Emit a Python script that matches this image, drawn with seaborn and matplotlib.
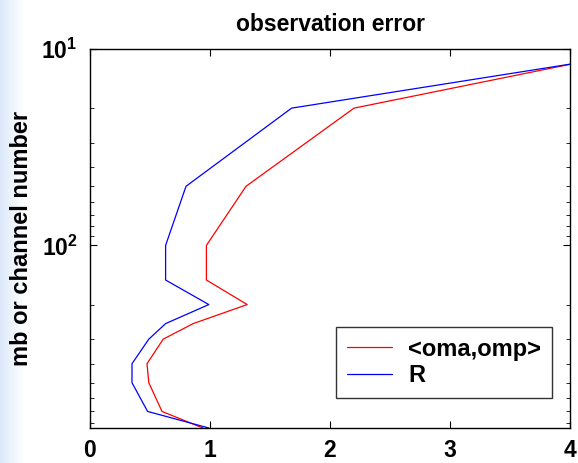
import numpy as np
import matplotlib
matplotlib.use("Agg")
import matplotlib.pyplot as plt
import seaborn as sns
import pandas as pd
from matplotlib.ticker import LogLocator, NullFormatter, FixedLocator

# ---- data ----
levels = [10, 20, 50, 100, 150, 200, 250, 300, 400, 500, 700, 850]
oma_omp = [4.63, 2.20, 1.30, 0.97, 0.97, 1.31, 0.86, 0.61, 0.475, 0.49, 0.60, 0.94]
R_vals = [4.80, 1.68, 0.80, 0.63, 0.63, 0.99, 0.63, 0.49, 0.35, 0.35, 0.48, 0.99]
series_names = ["<oma,omp>", "R"]
x_ticks = [0, 1, 2, 3, 4]
y_major = [10, 100]
y_major_labels = [r"$\mathbf{10^{1}}$", r"$\mathbf{10^{2}}$"]
title = "observation error"
ylabel = "mb or channel number"

df = pd.concat([
    pd.DataFrame({"err": oma_omp, "p": levels, "series": series_names[0]}),
    pd.DataFrame({"err": R_vals, "p": levels, "series": series_names[1]}),
])

sns.set_style("white")
plt.rcParams["font.family"] = ["Liberation Sans", "DejaVu Sans"]
plt.rcParams["text.color"] = "black"
plt.rcParams["axes.labelcolor"] = "black"
plt.rcParams["xtick.color"] = "black"
plt.rcParams["ytick.color"] = "black"
plt.rcParams["mathtext.fontset"] = "custom"
plt.rcParams["mathtext.rm"] = "Liberation Sans"
plt.rcParams["mathtext.bf"] = "Liberation Sans:bold"
plt.rcParams["mathtext.it"] = "Liberation Sans:italic"

fig = plt.figure(figsize=(5.78, 4.63), dpi=100)
fig.patch.set_facecolor("white")

# light blue strip at the left edge
bg = fig.add_axes([0, 0, 0.04, 1])
grad = np.linspace(0, 1, 64)[None, :, None]
c0 = np.array([0.86, 0.91, 0.98])
c1 = np.array([1.0, 1.0, 1.0])
img = c0 + (c1 - c0) * grad
bg.imshow(np.repeat(img, 2, axis=0), aspect="auto", extent=[0, 1, 0, 1])
bg.axis("off")

ax = fig.add_axes([90/578, 1 - 428/463, (570 - 90)/578, (428 - 49)/463])
sns.lineplot(data=df, x="err", y="p", hue="series", sort=False, orient="y",
             palette=["#ff0000", "#0000ff"], linewidth=0.9, ax=ax, estimator=None)

ax.set_yscale("log")
ax.set_xlim(0, 4)
ax.set_ylim(850, 10)
ax.set_xticks(x_ticks)
ax.set_xticklabels([str(t) for t in x_ticks])
ax.yaxis.set_major_locator(FixedLocator(y_major))
ax.set_yticklabels(y_major_labels)
ax.yaxis.set_minor_locator(LogLocator(base=10, subs=np.arange(2, 10)))
ax.yaxis.set_minor_formatter(NullFormatter())

for lab in ax.get_xticklabels() + ax.get_yticklabels():
    lab.set_fontsize(16.5)
    lab.set_fontweight("bold")
    lab.set_color("black")

ax.tick_params(axis="x", which="major", direction="in", length=5, width=0.8,
               top=True, bottom=True, pad=8)
ax.tick_params(axis="y", which="major", direction="in", length=5, width=0.8,
               left=True, right=True, pad=9)
ax.tick_params(axis="y", which="minor", direction="in", length=3, width=0.6,
               left=True, right=True)

for s in ax.spines.values():
    s.set_visible(True)
    s.set_color("black")
    s.set_linewidth(1.0)

ax.set_xlabel("")
ax.set_ylabel(ylabel, fontsize=17, fontweight="bold", labelpad=6, color="black")
ax.set_title(title, fontsize=16.5, fontweight="bold", pad=13, color="black")

leg = ax.legend(loc="lower right", bbox_to_anchor=(0.962, 0.08), frameon=True,
                fancybox=False, edgecolor="black", fontsize=17,
                handlelength=1.9, borderpad=0.45, labelspacing=0.15,
                handletextpad=0.7, borderaxespad=0.0)
leg.get_frame().set_linewidth(1.0)
for t in leg.get_texts():
    t.set_fontweight("bold")
    t.set_color("black")

fig.savefig("out.png", dpi=100)
